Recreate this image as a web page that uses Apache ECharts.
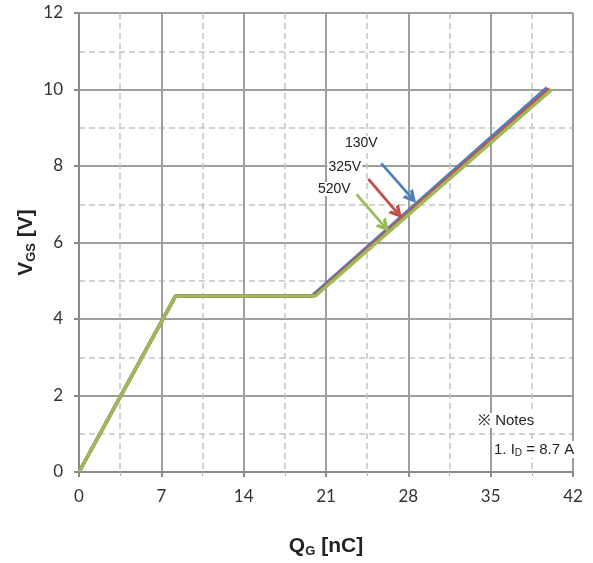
<!DOCTYPE html>
<html>
<head>
<meta charset="utf-8">
<script src="https://cdn.jsdelivr.net/npm/echarts@6/dist/echarts.min.js"></script>
<style>html,body{margin:0;padding:0;background:#fff;}#c{width:593px;height:563px;}</style>
</head>
<body>
<div id="c"></div>
<script>
// Gate charge curves (Q_G in nC, V_GS in V)
const seriesNames = ['130V', '325V', '520V'];
const qg130 = [0, 8.2, 19.8, 39.8];
const vgs130 = [0, 4.6, 4.6, 10.05];
const qg325 = [0, 8.2, 19.95, 40.0];
const vgs325 = [0, 4.6, 4.6, 10.02];
const qg520 = [0, 8.2, 20.1, 40.2];
const vgs520 = [0, 4.6, 4.6, 10.0];

// Annotation arrows (start -> end) and label anchors, in data units
const arrowStartQ = [25.7, 24.6, 23.6];
const arrowStartV = [8.07, 7.66, 7.26];
const arrowEndQ = [28.3, 27.1, 26.0];
const arrowEndV = [7.16, 6.76, 6.41];
const labelQ = [24.0, 22.6, 21.7];
const labelV = [8.6, 7.97, 7.4];

const xTicks = [0, 7, 14, 21, 28, 35, 42];
const yTicks = [0, 2, 4, 6, 8, 10, 12];

const colors = ['#4F81BD', '#C0504D', '#9BBB59'];
const qgs = [qg130, qg325, qg520];
const vgss = [vgs130, vgs325, vgs520];

const chevron = 'path://M5,0 L10,10 L7.2,10 L5,5.2 L2.8,10 L0,10 Z';

const series = seriesNames.map((name, i) => ({
  name: name,
  type: 'line',
  data: qgs[i].map((q, k) => [q, vgss[i][k]]),
  showSymbol: false,
  symbol: 'none',
  lineStyle: { color: colors[i], width: 3.5 },
  itemStyle: { color: colors[i] },
  z: 3 + i,
  markLine: {
    silent: true,
    symbol: ['none', chevron],
    symbolSize: [14, 13],
    label: { show: false },
    lineStyle: { color: colors[i], width: 2.8, type: 'solid' },
    data: [[
      { coord: [arrowStartQ[i], arrowStartV[i]] },
      { coord: [arrowEndQ[i], arrowEndV[i]] }
    ]]
  },
  markPoint: {
    silent: true,
    symbol: 'circle',
    symbolSize: 0,
    label: {
      show: true,
      formatter: name,
      color: '#222',
      fontFamily: 'Liberation Sans, Arial, sans-serif',
      fontSize: 14,
      backgroundColor: '#fff',
      padding: [0, 1],
      position: 'inside'
    },
    data: [{ coord: [labelQ[i], labelV[i]] }]
  }
}));

const chart = echarts.init(document.getElementById('c'));
chart.setOption({
  animation: false,
  backgroundColor: '#fff',
  grid: { left: 79, right: 20, top: 13, bottom: 91, containLabel: false },
  xAxis: {
    type: 'value',
    min: xTicks[0], max: xTicks[xTicks.length - 1], interval: 7,
    axisLine: { show: true, lineStyle: { color: '#8a8a8a', width: 2 } },
    axisTick: { show: true, length: 5, lineStyle: { color: '#8a8a8a', width: 2 } },
    minorTick: { show: true, splitNumber: 2, length: 4, lineStyle: { color: '#b5b5b5' } },
    splitLine: { show: true, lineStyle: { color: '#9e9e9e', width: 2 } },
    minorSplitLine: { show: true, lineStyle: { color: '#c4c4c4', width: 1.5, type: [6, 4] } },
    axisLabel: { margin: 16, color: '#333', fontSize: 17, fontFamily: 'Lato, sans-serif' },
    name: '{m|Q}{s|G}{m| [nC]}',
    nameLocation: 'middle',
    nameGap: 63,
    nameMoveOverlap: false,
    nameTextStyle: {
      rich: {
        m: { fontSize: 21, fontWeight: 'bold', color: '#222', fontFamily: 'Liberation Sans, Arial, sans-serif' },
        s: { fontSize: 13, fontWeight: 'bold', color: '#222', fontFamily: 'Liberation Sans, Arial, sans-serif', padding: [10, 0, 0, 0] }
      }
    }
  },
  yAxis: {
    type: 'value',
    min: yTicks[0], max: yTicks[yTicks.length - 1], interval: 2,
    axisLine: { show: true, lineStyle: { color: '#8a8a8a', width: 2 } },
    axisTick: { show: true, length: 5, lineStyle: { color: '#8a8a8a', width: 2 } },
    minorTick: { show: false, splitNumber: 2 },
    splitLine: { show: true, lineStyle: { color: '#9e9e9e', width: 2 } },
    minorSplitLine: { show: true, lineStyle: { color: '#c4c4c4', width: 1.5, type: [6, 4] } },
    axisLabel: { margin: 16, color: '#333', fontSize: 17, fontFamily: 'Lato, sans-serif' },
    name: '{m|V}{s|GS}{m| [V]}',
    nameLocation: 'middle',
    nameGap: 41,
    nameMoveOverlap: false,
    nameRotate: 90,
    nameTextStyle: {
      rich: {
        m: { fontSize: 21, fontWeight: 'bold', color: '#222', fontFamily: 'Liberation Sans, Arial, sans-serif' },
        s: { fontSize: 13, fontWeight: 'bold', color: '#222', fontFamily: 'Liberation Sans, Arial, sans-serif', padding: [10, 0, 0, 0] }
      }
    }
  },
  graphic: [
    {
      type: 'text', left: 478, top: 413, z: 100,
      style: { text: '※ Notes', fill: '#222', font: '15px "Liberation Sans", Arial, sans-serif', backgroundColor: '#fff' }
    },
    {
      type: 'text', left: 494, top: 441, z: 100,
      style: {
        text: '{m|1. I}{s|D}{m| = 8.7 A}',
        backgroundColor: '#fff',
        rich: {
          m: { fontSize: 15, fill: '#222', fontFamily: 'Liberation Sans, Arial, sans-serif' },
          s: { fontSize: 10, fill: '#222', fontFamily: 'Liberation Sans, Arial, sans-serif', padding: [7, 0, 0, 0] }
        }
      }
    }
  ],
  series: series
});
</script>
</body>
</html>
